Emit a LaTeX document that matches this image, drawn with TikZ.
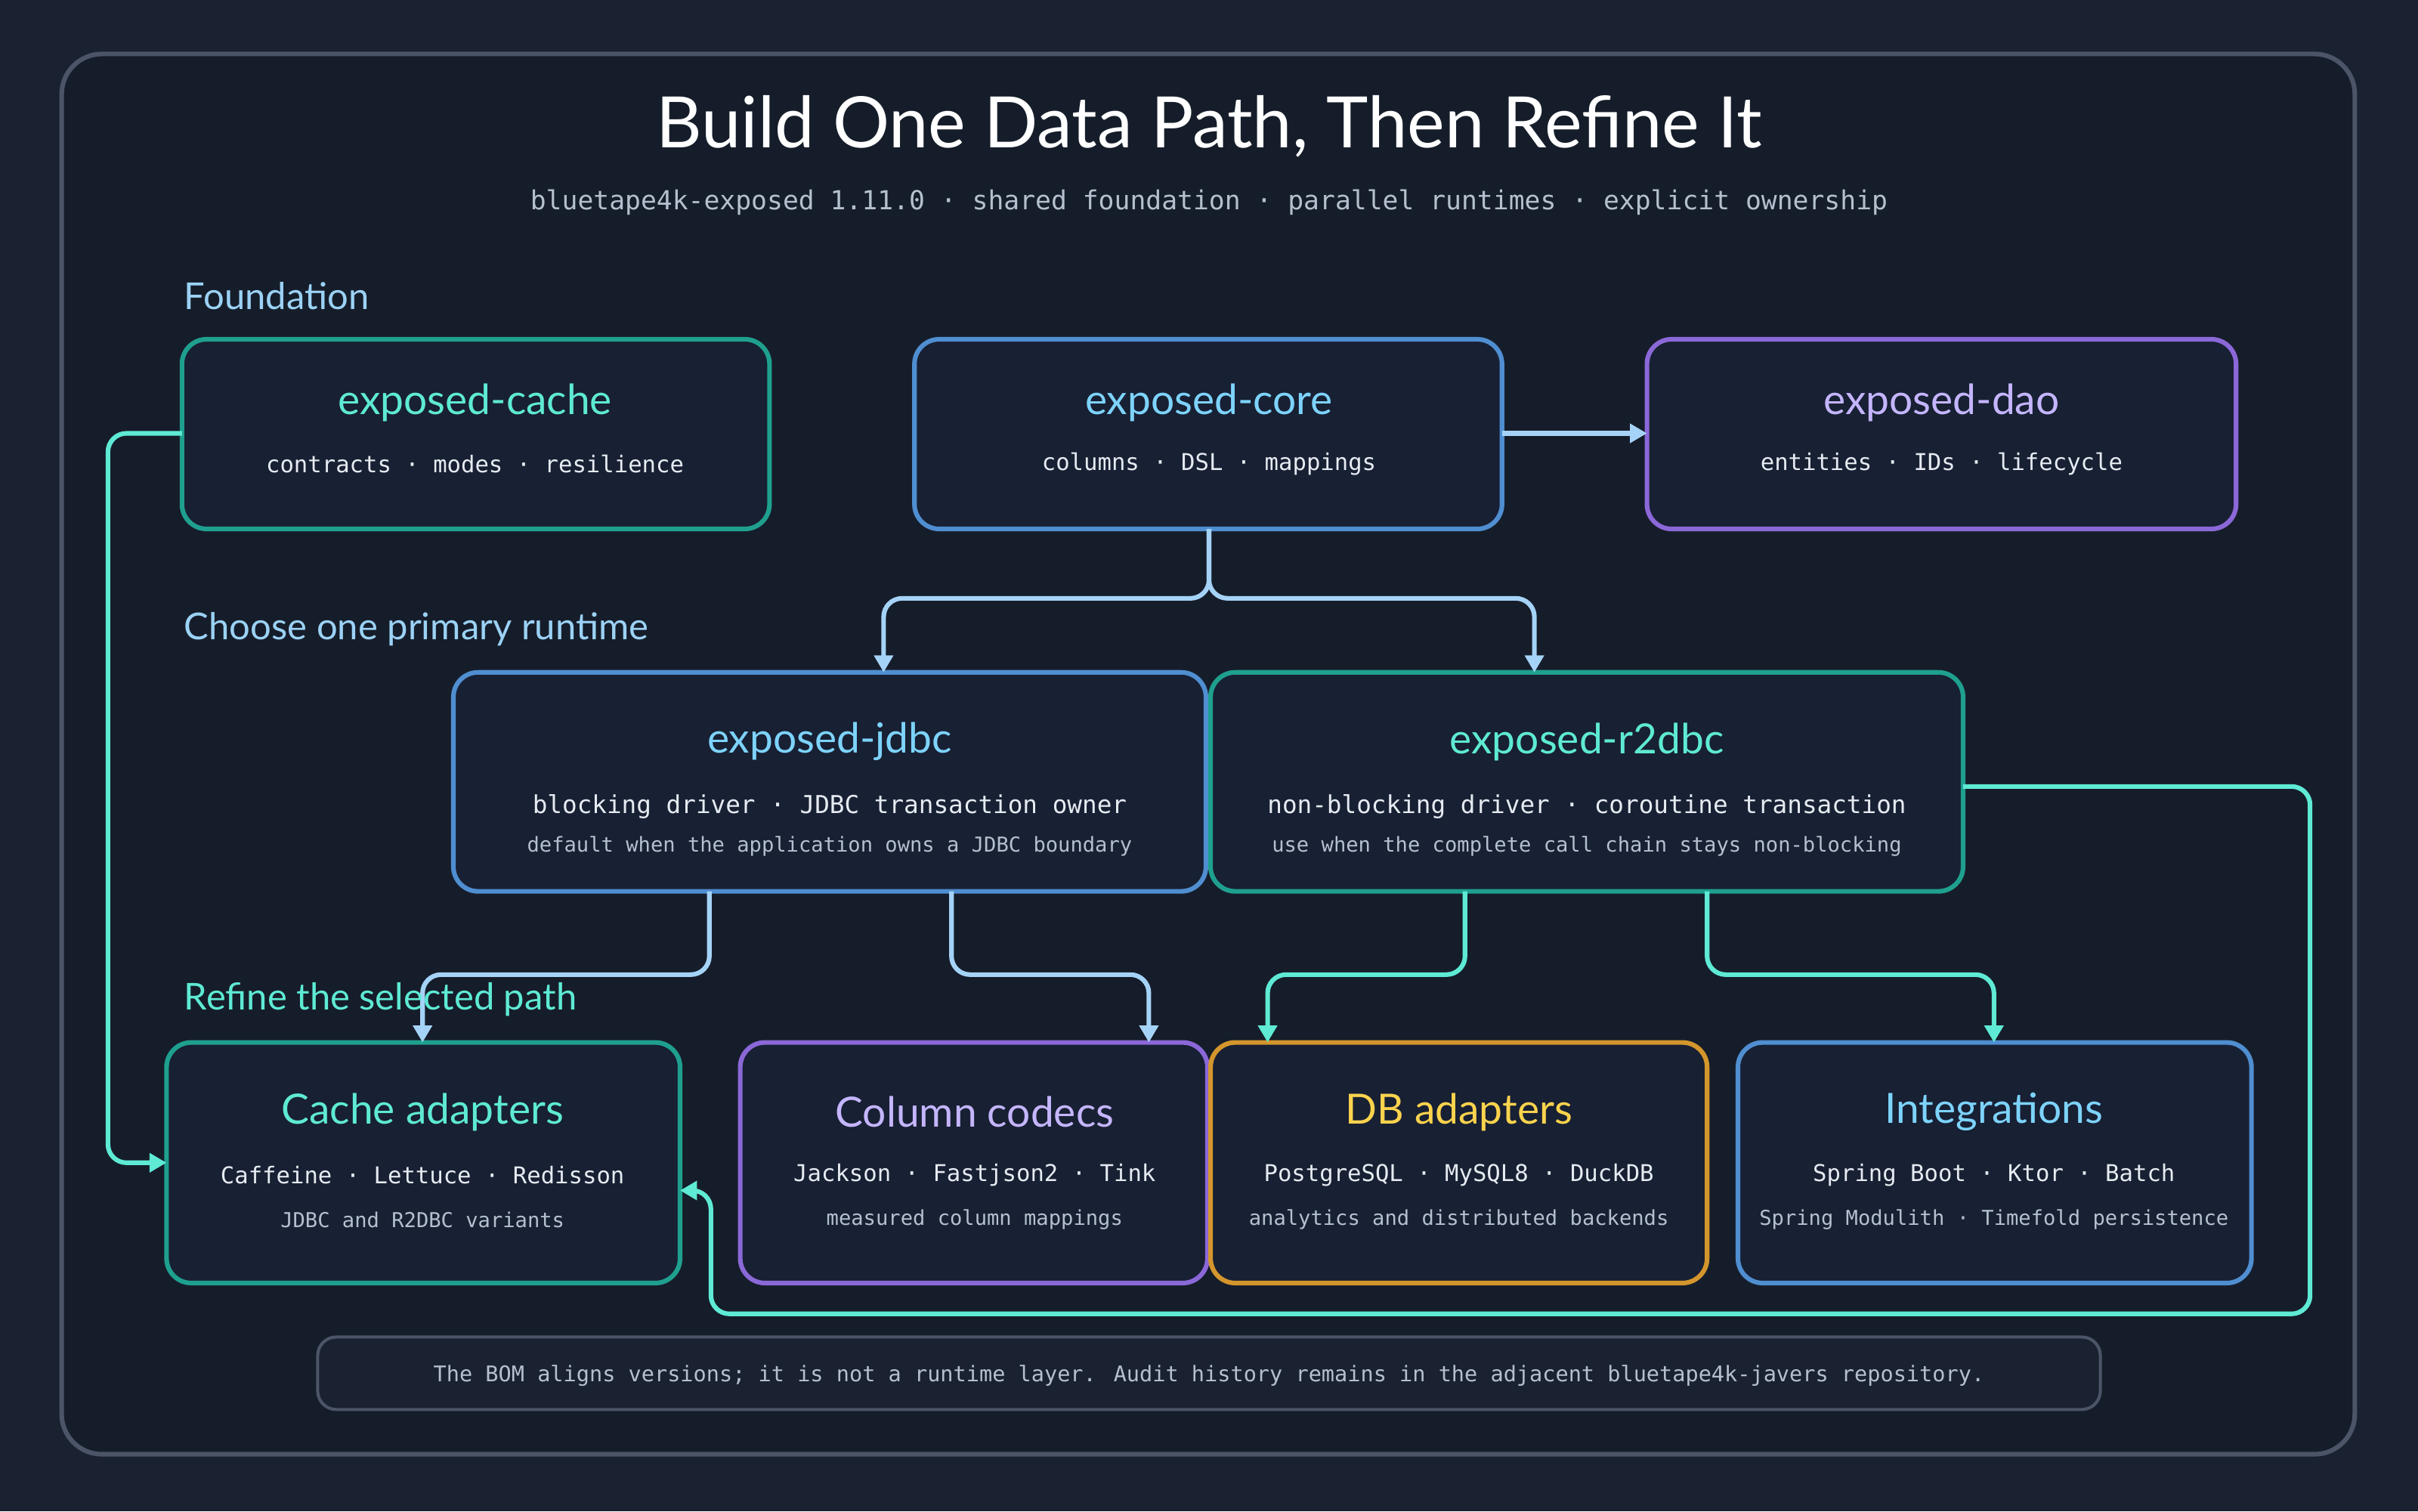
\documentclass[tikz,border=0pt]{standalone}
\usepackage{fontspec}
\setmainfont{Lato}
\newfontfamily\monof{DejaVu Sans Mono}
\newfontfamily\handf{Lato}
\usetikzlibrary{arrows.meta}
\definecolor{bg}{HTML}{1A2130}
\definecolor{panel}{HTML}{161D2A}
\definecolor{boxfill}{HTML}{182033}
\definecolor{frame}{HTML}{4B5567}
\definecolor{teal}{HTML}{1FA08F}
\definecolor{tealt}{HTML}{5EEAD4}
\definecolor{blue}{HTML}{4F8ED0}
\definecolor{bluet}{HTML}{7DD3FC}
\definecolor{purp}{HTML}{8B68D8}
\definecolor{purpt}{HTML}{C4B5FD}
\definecolor{oran}{HTML}{D4962C}
\definecolor{orant}{HTML}{FCD34D}
\definecolor{txt}{HTML}{E6EBF2}
\definecolor{sub}{HTML}{B5C0CE}
\definecolor{lb}{HTML}{9BD2F5}
\definecolor{arrb}{HTML}{A5D3F7}
\definecolor{arrt}{HTML}{5EEAD4}
\begin{document}
\begin{tikzpicture}[x=1pt,y=-1pt,
 box/.style={draw=#1,line width=3pt,rounded corners=16pt,fill=boxfill},
 ttl/.style={font=\handf\fontsize{27}{30}\selectfont,text=#1,anchor=center},
 l1/.style={font=\monof\fontsize{15}{18}\selectfont,text=txt,anchor=center},
 l1b/.style={font=\monof\fontsize{16}{20}\selectfont,text=txt,anchor=center},
 l2/.style={font=\monof\fontsize{13.3}{16}\selectfont,text=sub,anchor=center},
 sec/.style={font=\handf\fontsize{24}{28}\selectfont,anchor=west},
 arr/.style={draw=#1,line width=3pt,rounded corners=12pt,-{Triangle[length=11pt,width=12pt]}},
 ln/.style={draw=#1,line width=3pt,rounded corners=12pt}]
\useasboundingbox (0,0) rectangle (1568,980);
\fill[bg] (0,0) rectangle (1568,980);
\draw[frame,line width=3pt,fill=panel,rounded corners=26pt] (40,35) rectangle (1527,943);
\node[font=\handf\fontsize{46}{50}\selectfont,text=white] (title) at (784,82) {Build One Data Path, Then Refine It};
\node[font=\monof\fontsize{17}{20}\selectfont,text=sub] (subt) at (784,131) {bluetape4k-exposed 1.11.0 · shared foundation · parallel runtimes · explicit ownership};
\node[sec,text=lb] (s1) at (116,192) {Foundation};
\node[sec,text=lb] (s2) at (116,408) {Choose one primary runtime};
% top boxes
\draw[box=teal] (118,220) rectangle (499,343); \coordinate (cacheL) at (118,281);
\draw[box=blue] (593,220) rectangle (974,343); \coordinate (coreR) at (974,281); \coordinate (coreB) at (784,343);
\draw[box=purp] (1068,220) rectangle (1450,343); \coordinate (daoL) at (1068,281);
\node[ttl=tealt] (t1) at (308,261) {exposed-cache};
\node[l1] (d1) at (308,301) {contracts · modes · resilience};
\node[ttl=bluet] (t2) at (784,261) {exposed-core};
\node[l1] (d2) at (784,301) {columns · DSL · mappings};
\node[ttl=purpt] (t3) at (1259,261) {exposed-dao};
\node[l1] (d3) at (1259,301) {entities · IDs · lifecycle};
% runtime boxes
\draw[box=blue] (294,436) rectangle (782,578);
\draw[box=teal] (785,436) rectangle (1273,578);
\node[ttl=bluet] (t4) at (538,481) {exposed-jdbc};
\node[l1b] (d4) at (538,523) {blocking driver · JDBC transaction owner};
\node[l2] (e4) at (538,549) {default when the application owns a JDBC boundary};
\node[ttl=tealt] (t5) at (1029,481) {exposed-r2dbc};
\node[l1b] (d5) at (1029,523) {non-blocking driver · coroutine transaction};
\node[l2] (e5) at (1029,549) {use when the complete call chain stays non-blocking};
% bottom boxes
\draw[box=teal] (108,676) rectangle (441,832);
\draw[box=purp] (480,676) rectangle (783,832);
\draw[box=oran] (785,676) rectangle (1107,832);
\draw[box=blue] (1127,676) rectangle (1460,832);
\node[ttl=tealt] (t6) at (274,721) {Cache adapters};
\node[l1] (d6) at (274,762) {Caffeine · Lettuce · Redisson};
\node[l2] (e6) at (274,791) {JDBC and R2DBC variants};
\node[ttl=purpt] (t7) at (632,721) {Column codecs};
\node[l1] (d7) at (632,762) {Jackson · Fastjson2 · Tink};
\node[l2] (e7) at (632,791) {measured column mappings};
\node[ttl=orant] (t8) at (946,721) {DB adapters};
\node[l1] (d8) at (946,762) {PostgreSQL · MySQL8 · DuckDB};
\node[l2] (e8) at (946,791) {analytics and distributed backends};
\node[ttl=bluet] (t9) at (1293,721) {Integrations};
\node[l1] (d9) at (1293,762) {Spring Boot · Ktor · Batch};
\node[l2] (e9) at (1293,791) {Spring Modulith · Timefold persistence};
% footer
\draw[frame,line width=2pt,fill=bg,rounded corners=12pt] (206,867) rectangle (1362,914);
\node[font=\monof\fontsize{14}{16}\selectfont,text=sub] (foot) at (784,892) {The BOM aligns versions; it is not a runtime layer. Audit history remains in the adjacent bluetape4k-javers repository.};
% arrows
\path[arr=arrb,rounded corners=0pt] (coreR) -- (daoL);
\path[arr=arrb] (coreB) |- (573,388) -- (573,436);
\path[arr=arrb] (coreB) |- (995,388) -- (995,436);
\path[arr=arrt] (cacheL) -| (70,754) -- (108,754);
\path[arr=arrb] (460,578) |- (274,632) -- (274,676);
\path[arr=arrb] (617,578) |- (745,632) -- (745,676);
\path[arr=arrt] (950,578) |- (822,632) -- (822,676);
\path[arr=arrt] (1107,578) |- (1293,632) -- (1293,676);
\path[arr=arrt] (1273,510) -| (1498,852) -| (461,772) -- (441,772);
\node[sec,text=tealt] (s3) at (116,648) {Refine the selected path};
\end{tikzpicture}
\end{document}
